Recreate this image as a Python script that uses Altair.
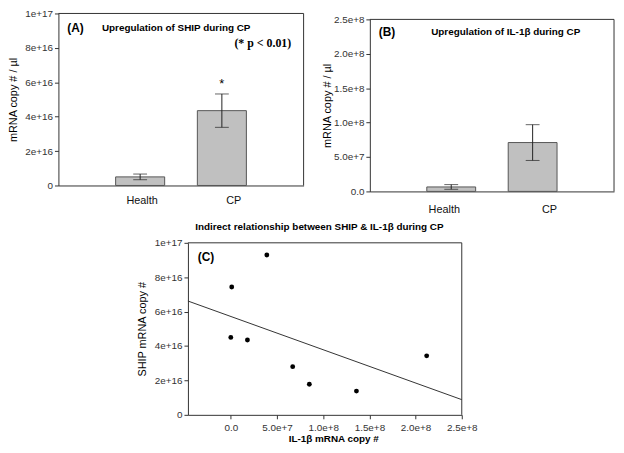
import altair as alt
import pandas as pd

# ---------------- data ----------------
groups = ["Health", "CP"]
ship_mean = [5.0e15, 4.35e16]
ship_err = [1.65e15, 9.7e15]
il1b_mean = [6.5e6, 7.1e7]
il1b_err = [3.4e6, 2.6e7]

scatter_il1b = [0.0, 1.0e6, 1.8e7, 3.9e7, 6.7e7, 8.5e7, 1.36e8, 2.12e8]
scatter_ship = [4.5e16, 7.43e16, 4.35e16, 9.29e16, 2.8e16, 1.78e16, 1.38e16, 3.43e16]

ship_ticks = [0, 2e16, 4e16, 6e16, 8e16, 1e17]
il1b_ticks = [0, 5e7, 1e8, 1.5e8, 2e8, 2.5e8]

dfA = pd.DataFrame({
    "group": groups,
    "mean": ship_mean,
    "lo": [m - e for m, e in zip(ship_mean, ship_err)],
    "hi": [m + e for m, e in zip(ship_mean, ship_err)],
})
dfB = pd.DataFrame({
    "group": groups,
    "mean": il1b_mean,
    "lo": [m - e for m, e in zip(il1b_mean, il1b_err)],
    "hi": [m + e for m, e in zip(il1b_mean, il1b_err)],
})
dfC = pd.DataFrame({"il1b": scatter_il1b, "ship": scatter_ship})
one = pd.DataFrame({"k": [0]})

FONT = "Liberation Sans"
LINE = "#333333"
BAR_FILL = "#c0c0c0"
BAR_STROKE = "#555555"

EXPR0 = "datum.value == 0 ? '0' : format(datum.value, '.0e')"
EXPR1 = "datum.value == 0 ? '0.0' : format(datum.value, '.1e')"


def text(label, x, y, size=10, weight="bold", align="left", font=FONT):
    return alt.Chart(one).mark_text(
        text=label, fontSize=size, fontWeight=weight, align=align,
        baseline="middle", font=font, color="black"
    ).encode(x=alt.value(x), y=alt.value(y))


def frame(x0, x1, y0, y1):
    top = alt.Chart(one).mark_rule(color=LINE, strokeWidth=1).encode(
        x=alt.value(x0), x2=alt.value(x1), y=alt.value(y0))
    right = alt.Chart(one).mark_rule(color=LINE, strokeWidth=1).encode(
        x=alt.value(x1), y=alt.value(y0), y2=alt.value(y1))
    return [top, right]


def bar_panel(df, x_range, y_range, y_domain, x_off, y_off, y_ticks, y_expr,
              label_offset, label_pad, ytitle_pad):
    def xs():
        return alt.Scale(type="band", domain=groups, range=x_range,
                         paddingInner=0.4, paddingOuter=0.7)

    def ys():
        return alt.Scale(domain=y_domain, range=y_range, nice=False, zero=True)

    x_axis = alt.Axis(
        orient="bottom", offset=x_off, title=None, ticks=False, labelAngle=0,
        labelPadding=label_pad, labelFontSize=11, labelColor="#111111",
        labelOffset=label_offset,
    )
    y_axis = alt.Axis(
        orient="left", offset=y_off, values=y_ticks, labelExpr=y_expr,
        title="mRNA copy # / µl", titleFontSize=11, titleFontWeight="normal",
        titlePadding=ytitle_pad, tickSize=4, labelPadding=2, labelFontSize=10,
        labelFlush=False, labelOverlap=False,
    )

    def xn():
        return alt.X("group:N", sort=groups, scale=xs(), axis=None)

    bars = alt.Chart(df).mark_bar(fill=BAR_FILL, stroke=BAR_STROKE, strokeWidth=1).encode(
        x=alt.X("group:N", sort=groups, scale=xs(), axis=x_axis),
        y=alt.Y("mean:Q", scale=ys(), axis=y_axis),
    )
    err = alt.Chart(df).mark_rule(color="#222222", strokeWidth=1).encode(
        x=xn(), y=alt.Y("lo:Q", scale=ys(), axis=None), y2="hi:Q")
    cap_lo = alt.Chart(df).mark_tick(color="#222222", size=14, thickness=1).encode(
        x=xn(), y=alt.Y("lo:Q", scale=ys(), axis=None))
    cap_hi = alt.Chart(df).mark_tick(color="#222222", size=14, thickness=1).encode(
        x=xn(), y=alt.Y("hi:Q", scale=ys(), axis=None))
    return [bars, err, cap_lo, cap_hi], xn, ys


# ---------------- panel A ----------------
layersA, xnA, ysA = bar_panel(
    dfA, [0, 248], [174, 0], [0, 1e17], -232, 0, ship_ticks, EXPR0,
    {"condition": {"test": "datum.value == 'CP'", "value": 12}, "value": 2}, 9, 6)
starA = alt.Chart(dfA).transform_filter("datum.group == 'CP'").mark_text(
    text="*", fontSize=13, dy=-10, font=FONT, color="black", align="center"
).encode(x=xnA(), y=alt.Y("hi:Q", scale=ysA(), axis=None))
panelA = [
    *layersA, starA, *frame(0, 248, 0, 174),
    text("(A)", 9, 15, size=12),
    text("Upregulation of SHIP during CP", 44, 15, size=10),
    text("(* p < 0.01)", 178, 30, size=12, font="Liberation Serif"),
]

# ---------------- panel B ----------------
layersB, xnB, ysB = bar_panel(
    dfB, [315, 562], [180, 6], [0, 2.5e8], -226, -315, il1b_ticks, EXPR1,
    {"condition": {"test": "datum.value == 'CP'", "value": 17}, "value": -7}, 12, 1)
panelB = [
    *layersB, *frame(315, 562, 6, 180),
    text("(B)", 324, 19, size=12),
    text("Upregulation of IL-1β during CP", 377, 19, size=10),
]

# ---------------- panel C ----------------
def xsC():
    return alt.Scale(domain=[-4.64e7, 2.5e8], range=[131, 408], nice=False, zero=False)


def ysC():
    return alt.Scale(domain=[0, 1e17], range=[406, 232], nice=False, zero=True)


points = alt.Chart(dfC).mark_circle(size=24, color="black", opacity=1).encode(
    x=alt.X("il1b:Q", scale=xsC(), axis=alt.Axis(
        orient="bottom", offset=0, values=il1b_ticks, labelExpr=EXPR1,
        title="IL-1β mRNA copy #", titleFontSize=10, titleFontWeight="bold",
        titlePadding=1, titleX=278, tickSize=4, labelPadding=4, labelFontSize=10,
        labelFlush=False, labelOverlap=False)),
    y=alt.Y("ship:Q", scale=ysC(), axis=alt.Axis(
        orient="left", offset=-131, values=ship_ticks, labelExpr=EXPR0,
        title="SHIP mRNA copy #", titleFontSize=11, titleFontWeight="normal",
        titlePadding=7, tickSize=4, labelPadding=2, labelFontSize=10,
        labelFlush=False, labelOverlap=False)),
)
fit = alt.Chart(dfC).transform_regression(
    "il1b", "ship", extent=[-4.64e7, 2.5e8]
).mark_line(color="#333333", strokeWidth=1).encode(
    x=alt.X("il1b:Q", scale=xsC(), axis=None),
    y=alt.Y("ship:Q", scale=ysC(), axis=None),
)
panelC = [
    points, fit, *frame(131, 408, 232, 406),
    text("(C)", 141, 246, size=12),
    text("Indirect relationship between SHIP & IL-1β during CP", 264, 216, size=10, align="center"),
]

chart = alt.layer(*panelA, *panelB, *panelC).resolve_scale(
    x="independent", y="independent"
).resolve_axis(
    x="independent", y="independent"
).properties(
    width=562, height=406,
    autosize=alt.AutoSizeParams(type="none"),
    padding={"left": 51, "top": 3, "right": 2, "bottom": 30},
).configure_view(stroke=None).configure_axis(
    grid=False, domainColor=LINE, tickColor=LINE, labelColor="#333333",
    titleColor="black", labelFont=FONT, titleFont=FONT,
).configure_text(font=FONT)

chart.save("out.html", embed_options={"renderer": "svg", "actions": False})
